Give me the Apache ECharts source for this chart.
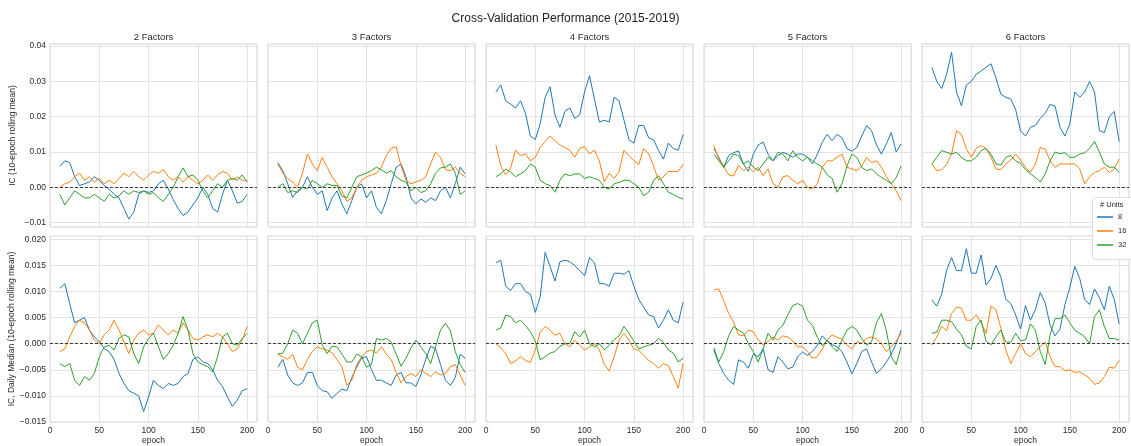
<!DOCTYPE html>
<html>
<head>
<meta charset="utf-8">
<script src="https://cdn.jsdelivr.net/npm/echarts@6/dist/echarts.min.js"></script>
<style>
  html, body { margin: 0; padding: 0; background: #ffffff; }
  #chart { width: 1131px; height: 446px; }
</style>
</head>
<body>
<div id="chart"></div>
<script>
// Epochs at which the rolling means are sampled
const epochs = [10,15,20,25,30,35,40,45,50,55,60,65,70,75,80,85,90,95,100,105,110,115,120,125,130,135,140,145,150,155,160,165,170,175,180,185,190,195,200];

const factorTitles = ['2 Factors', '3 Factors', '4 Factors', '5 Factors', '6 Factors'];
const unitNames = ['8', '16', '32'];
const unitColors = ['#1f77b4', '#ff7f0e', '#2ca02c'];

const xTicks = [0, 50, 100, 150, 200];
const icTicks = [-0.01, 0, 0.01, 0.02, 0.03, 0.04];
const medTicks = [-0.015, -0.01, -0.005, 0, 0.005, 0.01, 0.015, 0.02];

// IC, 10-epoch rolling mean
const ic2_u8  = [0.006,0.0075,0.007,0.003,0.0005,0.001,0.0015,0.003,0.002,0.0005,-0.0005,-0.002,-0.003,-0.006,-0.009,-0.007,-0.002,-0.001,-0.0015,-0.001,0.001,0.002,-0.0005,-0.0035,-0.006,-0.008,-0.007,-0.005,-0.003,0.0,-0.002,-0.006,-0.007,-0.002,0.002,-0.001,-0.0045,-0.004,-0.002];
const ic2_u16 = [0.0,0.001,0.0015,0.003,0.004,0.002,0.003,0.0015,0.0025,0.001,0.002,0.001,0.0025,0.004,0.003,0.0045,0.003,0.002,0.0035,0.0045,0.004,0.005,0.003,0.002,0.003,0.0015,0.003,0.002,0.001,0.002,0.0035,0.002,0.0035,0.0045,0.004,0.002,0.003,0.002,0.002];
const ic2_u32 = [-0.002,-0.005,-0.003,-0.001,-0.002,-0.003,-0.003,-0.002,-0.003,-0.004,-0.002,-0.003,-0.0025,-0.001,-0.002,-0.001,-0.0015,-0.001,-0.002,-0.0015,-0.003,-0.004,-0.002,0.0,0.003,0.0055,0.003,0.0035,0.002,-0.001,-0.003,-0.001,0.001,0.0,0.002,0.0025,0.002,0.0035,0.0015];

const ic3_u8  = [0.007,0.0047,0.001,-0.0028,-0.001,0.0,0.003,0.0,-0.002,-0.001,-0.0066,-0.003,-0.001,-0.0047,-0.0075,-0.0038,0.0,0.001,-0.003,-0.001,-0.0057,-0.0075,-0.0038,0.001,0.0057,0.0066,0.003,-0.003,-0.0047,-0.0033,-0.0042,-0.003,-0.0038,-0.001,0.0,-0.003,0.001,0.0057,0.0038];
const ic3_u16 = [0.0066,0.004,0.0025,0.0015,0.0,0.004,0.0095,0.0066,0.0047,0.0085,0.0057,0.003,0.001,-0.001,-0.004,-0.003,0.0,0.002,0.003,0.0035,0.004,0.0057,0.009,0.011,0.0115,0.006,0.002,0.001,0.0015,0.002,0.003,0.0066,0.010,0.0085,0.005,0.0047,0.0057,0.004,0.003];
const ic3_u32 = [0.0,0.001,-0.0015,-0.001,-0.0015,0.0,-0.0005,0.002,0.001,0.0,0.001,0.0005,0.0005,-0.0025,-0.003,0.0,0.003,0.0035,0.004,0.0047,0.0057,0.005,0.004,0.0047,0.003,0.002,0.0015,-0.001,0.0,-0.0015,-0.001,0.001,0.004,0.0055,0.0057,0.0066,0.004,-0.002,-0.001];

const ic4_u8  = [0.027,0.029,0.0245,0.0235,0.0225,0.0245,0.021,0.0145,0.0135,0.018,0.0255,0.0285,0.0205,0.017,0.0215,0.0225,0.0195,0.0205,0.027,0.0316,0.025,0.0185,0.019,0.0185,0.0255,0.0245,0.019,0.0135,0.0125,0.0175,0.0175,0.014,0.0135,0.0105,0.008,0.0125,0.011,0.0105,0.015];
const ic4_u16 = [0.012,0.006,0.0035,0.0055,0.0105,0.009,0.0095,0.0075,0.0085,0.0113,0.013,0.0145,0.0132,0.012,0.0113,0.0105,0.0085,0.011,0.0115,0.0095,0.0105,0.0075,0.0015,0.004,0.0025,0.0045,0.0105,0.009,0.0075,0.0065,0.011,0.0095,0.006,0.002,0.003,0.0045,0.0045,0.0045,0.0065];
const ic4_u32 = [0.003,0.0038,0.0052,0.0043,0.003,0.0038,0.0047,0.0066,0.0057,0.002,0.001,0.0005,-0.0014,0.002,0.0038,0.0033,0.0038,0.0038,0.0025,0.003,0.0025,0.002,0.0,-0.0005,0.001,0.0014,0.002,0.002,0.001,0.0,-0.0024,-0.0014,0.002,0.0033,0.001,-0.0014,-0.002,-0.0028,-0.0033];

const ic5_u8  = [0.011,0.0085,0.0057,0.009,0.0098,0.0103,0.0066,0.0045,0.0094,0.012,0.0128,0.0094,0.0075,0.009,0.0099,0.0094,0.0085,0.0094,0.0094,0.0085,0.0066,0.0094,0.0128,0.015,0.0132,0.015,0.014,0.011,0.0102,0.0113,0.0145,0.0175,0.016,0.012,0.0094,0.0123,0.0155,0.010,0.0123];
const ic5_u16 = [0.0118,0.008,0.006,0.0035,0.0032,0.0062,0.0047,0.0057,0.0043,0.0057,0.0033,0.0052,0.001,0.0,0.003,0.0033,0.002,0.001,0.002,0.0,-0.0005,0.001,0.0057,0.0075,0.0075,0.0085,0.0094,0.0057,0.0052,0.0047,0.006,0.0085,0.007,0.0075,0.0057,0.003,0.001,-0.001,-0.0038];
const ic5_u32 = [0.0094,0.0075,0.0057,0.0075,0.0094,0.009,0.0066,0.0075,0.0057,0.0047,0.0066,0.0085,0.0075,0.0099,0.0094,0.0075,0.0104,0.0085,0.0075,0.0085,0.0075,0.0066,0.0057,0.0035,0.0025,-0.0014,0.001,0.006,0.0094,0.0085,0.0057,0.0047,0.0052,0.0038,0.0028,0.002,0.001,0.0028,0.006];

const ic6_u8  = [0.034,0.030,0.028,0.032,0.0383,0.027,0.0231,0.029,0.030,0.032,0.033,0.034,0.035,0.031,0.0264,0.0255,0.025,0.022,0.016,0.0145,0.017,0.0175,0.0195,0.021,0.0235,0.023,0.017,0.0145,0.018,0.027,0.0255,0.027,0.030,0.027,0.016,0.0155,0.020,0.0215,0.013];
const ic6_u16 = [0.0066,0.0047,0.005,0.0065,0.0094,0.016,0.015,0.011,0.0085,0.011,0.0118,0.011,0.0085,0.0052,0.005,0.0066,0.0077,0.0094,0.0077,0.0057,0.0042,0.0066,0.0113,0.0108,0.0075,0.0057,0.0066,0.0066,0.0066,0.0066,0.0052,0.001,0.003,0.0042,0.0047,0.0057,0.0042,0.0052,0.008];
const ic6_u32 = [0.0066,0.0085,0.0104,0.0099,0.0094,0.0099,0.0085,0.0075,0.0075,0.0085,0.0104,0.011,0.0094,0.0066,0.0063,0.0085,0.009,0.0075,0.0068,0.005,0.0038,0.0028,0.0015,0.0038,0.0075,0.010,0.0095,0.0098,0.0085,0.0085,0.0094,0.0098,0.011,0.013,0.010,0.0066,0.0057,0.0057,0.0042];

// IC daily median, 10-epoch rolling mean
const med2_u8  = [0.0106,0.0115,0.0077,0.004,0.0045,0.005,0.0026,0.0013,0.0004,-0.001,-0.0015,-0.003,-0.0057,-0.0076,-0.009,-0.0095,-0.010,-0.013,-0.0102,-0.007,-0.008,-0.0086,-0.0076,-0.008,-0.0076,-0.0063,-0.0057,-0.003,-0.0025,-0.0035,-0.0038,-0.005,-0.007,-0.0082,-0.0102,-0.012,-0.0108,-0.009,-0.0086];
const med2_u16 = [-0.0015,-0.001,0.0013,0.0033,0.0045,0.004,0.0026,0.0007,0.0,0.0017,0.0026,0.0045,0.0026,0.0004,-0.0019,0.0007,0.002,0.0026,0.0017,0.002,0.0036,0.0026,0.0017,0.0026,0.002,0.004,0.0026,0.001,0.0007,0.0013,0.0017,0.0013,0.002,0.0013,0.0,-0.0015,-0.001,0.0007,0.0033];
const med2_u32 = [-0.0038,-0.0044,-0.0038,-0.007,-0.008,-0.0063,-0.007,-0.0057,-0.0025,-0.0006,-0.0003,-0.0012,0.001,0.0017,0.0013,-0.0019,-0.0038,-0.0006,0.001,0.002,-0.0006,-0.003,-0.0019,-0.0003,0.002,0.0052,0.0026,-0.0019,-0.0035,-0.004,-0.0044,-0.0054,-0.0025,0.0013,0.002,0.0,-0.0003,0.001,0.002];

const med3_u8  = [-0.0045,-0.003,-0.006,-0.0075,-0.008,-0.0075,-0.0055,-0.0055,-0.008,-0.009,-0.0092,-0.0105,-0.0095,-0.0087,-0.009,-0.0065,-0.0045,-0.0027,-0.0025,-0.005,-0.007,-0.007,-0.0075,-0.008,-0.006,-0.0055,-0.0075,-0.0075,-0.0082,-0.006,-0.003,-0.0005,-0.001,-0.004,-0.007,-0.008,-0.0065,-0.002,-0.0028];
const med3_u16 = [-0.002,-0.0025,-0.003,-0.002,-0.0045,-0.005,-0.003,-0.0015,-0.0006,-0.001,-0.0012,-0.0018,-0.003,-0.0044,-0.008,-0.007,-0.004,-0.0025,-0.0015,-0.0012,-0.0018,-0.0006,-0.002,-0.003,-0.0055,-0.0075,-0.0063,-0.0057,-0.0063,-0.005,-0.0057,-0.0063,-0.0054,-0.006,-0.0057,-0.0044,-0.004,-0.006,-0.008];
const med3_u32 = [-0.002,-0.0018,0.0,0.0026,0.002,0.0,0.002,0.004,0.0045,-0.0003,-0.0019,-0.0005,-0.0006,-0.002,-0.0035,-0.0035,-0.002,-0.0025,-0.0045,-0.004,0.001,0.0007,0.001,0.0003,-0.002,-0.0043,-0.0028,-0.0008,0.0007,-0.0006,-0.0019,-0.0038,-0.0006,0.0026,0.0039,0.0025,-0.0015,-0.004,-0.0055];

const med4_u8  = [0.0155,0.016,0.011,0.0102,0.0115,0.0115,0.010,0.0095,0.006,0.009,0.0175,0.0148,0.012,0.0157,0.016,0.0157,0.015,0.014,0.013,0.0165,0.0155,0.0115,0.0115,0.011,0.0135,0.0135,0.0133,0.014,0.011,0.0085,0.007,0.0055,0.0052,0.003,0.0045,0.0065,0.0045,0.004,0.008];
const med4_u16 = [0.0,-0.0008,-0.0019,-0.0038,-0.0033,-0.0025,-0.0032,-0.0036,-0.0012,0.0023,0.0033,0.0026,0.0016,0.002,0.0,-0.0006,0.0007,-0.0003,-0.0012,-0.0006,0.0,-0.0012,-0.004,-0.0052,-0.0025,0.0007,0.002,0.0007,-0.001,-0.0013,-0.0022,-0.0032,-0.0038,-0.0047,-0.0038,-0.0042,-0.0063,-0.0085,-0.0038];
const med4_u32 = [0.0026,0.003,0.0055,0.0052,0.004,0.0045,0.0035,0.0023,0.0005,-0.0031,-0.0025,-0.0018,-0.0015,-0.0005,0.0,0.0,0.0023,0.0013,0.0026,0.0,-0.0006,0.0,-0.0012,-0.0003,0.0008,0.0015,0.0033,0.002,0.0005,-0.001,-0.0006,-0.0003,0.0,0.001,0.0003,-0.0012,-0.0018,-0.0035,-0.0028];

const med5_u8  = [-0.0012,-0.0038,-0.0057,-0.007,-0.0078,-0.0031,-0.0035,-0.0047,-0.002,-0.0025,-0.001,-0.005,-0.0055,-0.0025,-0.0035,-0.0048,-0.0045,-0.0025,-0.0016,-0.0022,-0.0015,-0.0003,0.0015,0.0005,-0.0002,-0.0006,-0.0015,-0.0035,-0.0058,-0.0038,-0.0015,-0.001,-0.0035,-0.0057,-0.0048,-0.0035,-0.002,0.0,0.0026];
const med5_u16 = [0.0103,0.0105,0.0082,0.0058,0.0042,0.0017,0.0015,0.0026,0.0023,0.0007,-0.0002,0.0004,0.0013,0.0007,0.0015,0.0013,0.0005,-0.0006,-0.0006,-0.0015,-0.0028,-0.0025,-0.001,0.0007,0.0017,0.0012,0.0009,-0.0003,-0.001,0.0004,0.0001,0.001,0.0013,0.0009,0.0,-0.0015,-0.0006,0.0005,0.002];
const med5_u32 = [-0.0008,-0.0035,-0.0015,0.0015,0.0033,0.0026,0.002,0.0,-0.0015,-0.0035,-0.001,0.002,0.0007,0.0026,0.0035,0.0055,0.0073,0.0077,0.0072,0.0045,0.0035,0.0012,-0.0004,0.0007,-0.0006,-0.0015,0.0007,0.0026,0.0033,0.0026,0.001,-0.0003,0.0004,0.004,0.0058,0.0025,-0.0025,-0.004,-0.0006];

const med6_u8  = [0.0084,0.0072,0.0095,0.0141,0.0165,0.014,0.014,0.0182,0.0135,0.0135,0.017,0.0112,0.0125,0.015,0.0128,0.0085,0.0077,0.0055,0.0028,0.0073,0.0045,0.0065,0.0098,0.0078,0.0035,0.0015,0.0028,0.0075,0.0108,0.0148,0.0125,0.0085,0.0075,0.0105,0.0088,0.0065,0.011,0.0085,0.0038];
const med6_u16 = [-0.0003,0.0013,0.0033,0.0025,0.0058,0.007,0.0068,0.0045,0.0045,0.0055,0.004,0.002,0.0072,0.0065,0.003,-0.0012,-0.0038,-0.0019,0.0,-0.0019,-0.0025,-0.0015,-0.0006,0.0003,-0.0025,-0.0044,-0.0044,-0.0052,-0.005,-0.0055,-0.0054,-0.006,-0.0066,-0.0078,-0.0075,-0.0063,-0.0045,-0.0047,-0.0032];
const med6_u32 = [0.002,0.0022,0.0045,0.0045,0.0042,0.0028,0.0017,-0.0005,-0.001,0.0033,0.0045,0.0005,-0.0002,0.0013,0.0026,0.0003,0.0003,0.002,0.0006,0.0007,0.0038,0.0026,-0.0015,-0.004,0.0018,0.0048,0.0048,0.0055,0.004,0.0026,0.002,0.0013,0.0,0.0052,0.0065,0.0033,0.001,0.001,0.0007];

// Panel grid: rows are metrics, columns are factor counts
const panelData = [
  [[ic2_u8, ic2_u16, ic2_u32], [ic3_u8, ic3_u16, ic3_u32], [ic4_u8, ic4_u16, ic4_u32], [ic5_u8, ic5_u16, ic5_u32], [ic6_u8, ic6_u16, ic6_u32]],
  [[med2_u8, med2_u16, med2_u32], [med3_u8, med3_u16, med3_u32], [med4_u8, med4_u16, med4_u32], [med5_u8, med5_u16, med5_u32], [med6_u8, med6_u16, med6_u32]]
];

const FONT = '"Liberation Sans", Arial, Helvetica, sans-serif';
const TEXT = '#2a2a2a';
const GRIDLINE = '#e3e3e3';
const FRAME = '#d2d2d2';

const colLeft = [50, 268, 486, 704, 922];
const panelWidth = 207;
const rowLayout = [
  { top: 44,  height: 183, min: -0.01125, max: 0.0406,  ticks: icTicks,  digits: 2, name: 'IC (10-epoch rolling mean)' },
  { top: 236, height: 186, min: -0.0150,  max: 0.02063, ticks: medTicks, digits: 3, name: 'IC, Daily Median (10-epoch rolling mean)' }
];

function fmt(v, digits) {
  const s = Math.abs(v).toFixed(digits);
  return (v < -1e-9 ? '\u2212' : '') + s;
}

const grids = [], xAxes = [], yAxes = [], series = [], graphics = [];

rowLayout.forEach((row, r) => {
  for (let c = 0; c < 5; c++) {
    const idx = r * 5 + c;
    grids.push({
      left: colLeft[c], top: row.top, width: panelWidth, height: row.height,
      show: true, backgroundColor: '#ffffff', borderColor: FRAME, borderWidth: 1
    });
    xAxes.push({
      type: 'value', gridIndex: idx, min: 0, max: 210, interval: 50,
      axisLine: { show: false }, axisTick: { show: false },
      axisLabel: { show: r === 1, showMaxLabel: false, fontSize: 8.5, color: TEXT, fontFamily: FONT, margin: 4 },
      splitLine: { show: true, lineStyle: { color: GRIDLINE, width: 1 } },
      name: r === 1 ? 'epoch' : '', nameLocation: 'middle', nameGap: 14,
      nameTextStyle: { fontSize: 8.5, color: TEXT, fontFamily: FONT }
    });
    yAxes.push({
      type: 'value', gridIndex: idx, min: row.min, max: row.max,
      axisLine: { show: false },
      axisTick: { show: false, customValues: row.ticks },
      axisLabel: {
        show: c === 0, customValues: row.ticks, fontSize: 8.5, color: TEXT, fontFamily: FONT, margin: 4,
        formatter: (v) => fmt(v, row.digits)
      },
      splitLine: { show: true, customValues: row.ticks, lineStyle: { color: GRIDLINE, width: 1 } },
      name: c === 0 ? row.name : '', nameLocation: 'middle', nameGap: 33, nameRotate: 90,
      nameTextStyle: { fontSize: 8.5, color: TEXT, fontFamily: FONT }
    });
    panelData[r][c].forEach((values, k) => {
      const s = {
        type: 'line', name: unitNames[k], xAxisIndex: idx, yAxisIndex: idx,
        data: epochs.map((e, i) => [e, values[i]]),
        showSymbol: false, symbol: 'none',
        lineStyle: { width: 1, color: unitColors[k] },
        itemStyle: { color: unitColors[k] },
        emphasis: { disabled: true }
      };
      if (k === 2) {
        s.markLine = {
          silent: true, symbol: 'none', label: { show: false },
          lineStyle: { type: [3, 2], color: '#3a3a3a', width: 1 },
          emphasis: { disabled: true },
          data: [{ yAxis: 0 }]
        };
      }
      series.push(s);
    });
  }
});

// Facet titles above the top row
factorTitles.forEach((t, c) => {
  graphics.push({
    type: 'text', x: colLeft[c] + panelWidth / 2, y: 37, z: 10,
    style: { text: t, fontSize: 9.5, fill: TEXT, fontFamily: FONT, textAlign: 'center', textVerticalAlign: 'middle' }
  });
});

// Legend box with its heading
graphics.push({
  type: 'rect', shape: { x: 1092.5, y: 197.5, width: 44, height: 62, r: 3 }, z: 3,
  style: { fill: '#ffffff', stroke: '#dddddd', lineWidth: 1 }
});
graphics.push({
  type: 'text', x: 1100, y: 205, z: 10,
  style: { text: '# Units', fontSize: 7.5, fill: TEXT, fontFamily: FONT, textVerticalAlign: 'middle' }
});

const chart = echarts.init(document.getElementById('chart'), null, { renderer: 'canvas' });
chart.setOption({
  animation: false,
  backgroundColor: '#ffffff',
  title: {
    text: 'Cross-Validation Performance (2015-2019)', left: 'center', top: 8,
    textStyle: { fontSize: 12, fontWeight: 'normal', color: '#222222', fontFamily: FONT }
  },
  legend: {
    data: unitNames, orient: 'vertical', left: 1092, top: 208, padding: 5,
    icon: 'rect', itemWidth: 16, itemHeight: 1.5, itemGap: 6,
    textStyle: { fontSize: 7.5, color: TEXT, fontFamily: FONT },
    selectedMode: false, z: 6
  },
  grid: grids,
  xAxis: xAxes,
  yAxis: yAxes,
  series: series,
  graphic: graphics
});
</script>
</body>
</html>
